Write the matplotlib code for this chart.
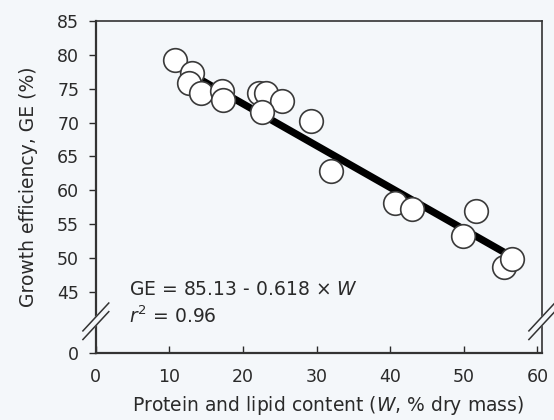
import matplotlib.pyplot as plt
import numpy as np

plt.rcParams["font.family"] = ["DejaVu Sans"]
plt.rcParams["mathtext.fontset"] = "dejavusans"

# protein + lipid content (W, % dry mass) and growth efficiency (GE, %)
w_content = [10.7, 13.1, 12.6, 14.3, 17.2, 17.3, 22.2, 23.1, 25.3, 22.6,
             29.3, 32.0, 40.7, 42.9, 51.6, 49.9, 55.5, 56.6]
ge_values = [79.2, 77.3, 75.9, 74.4, 74.7, 73.4, 74.3, 74.3, 73.2, 71.5,
             70.3, 62.8, 58.1, 57.3, 57.0, 53.2, 48.7, 49.9]
intercept = 85.13
slope = -0.618

y_ticks = [36, 45, 50, 55, 60, 65, 70, 75, 80, 85]
y_tick_labels = ["0", "45", "50", "55", "60", "65", "70", "75", "80", "85"]
x_ticks = [0, 10, 20, 30, 40, 50, 60]

bg = "#f4f7fa"
ink = "#2a2a2a"

fig = plt.figure(figsize=(5.54, 4.20), dpi=100, facecolor=bg)
ax = fig.add_axes([0.173, 0.160, 0.805, 0.790], facecolor=bg)

# regression line
wl = np.array([min(w_content), max(w_content)])
ax.plot(wl, intercept + slope * wl, color="black", lw=5.2, zorder=2,
        solid_capstyle="butt")

ax.plot(w_content, ge_values, "o", ms=17, mfc="white", mec="#3a3a3a",
        mew=1.2, zorder=3)

ax.set_xlim(0, 60.6)
ax.set_ylim(36, 85)
ax.set_xticks(x_ticks)
ax.set_yticks(y_ticks)
ax.set_yticklabels(y_tick_labels)
ax.tick_params(axis="x", direction="in", length=5, width=1, pad=11,
               labelsize=12.5, colors=ink)
ax.tick_params(axis="y", direction="out", length=5, width=1, pad=7,
               labelsize=12.5, colors=ink)

for side in ["left", "bottom", "right", "top"]:
    ax.spines[side].set_color("#333333")
    ax.spines[side].set_linewidth(1.2)
ax.spines["left"].set_linewidth(1.6)
ax.spines["bottom"].set_linewidth(1.6)

ax.set_xlabel(r"Protein and lipid content ($\it{W}$, % dry mass)",
              fontsize=13.5, color=ink)
ax.xaxis.set_label_coords(0.52, -0.125)
ax.set_ylabel("Growth efficiency, GE (%)", fontsize=13.5, color=ink,
              labelpad=14)

ax.text(0.075, 0.19, r"GE = 85.13 - 0.618 $\times$ $\it{W}$",
        transform=ax.transAxes, fontsize=13.5, color=ink, va="center")
ax.text(0.075, 0.11, r"$\it{r}^2$ = 0.96",
        transform=ax.transAxes, fontsize=13.5, color=ink, va="center")

# axis break marks
for xc in [0.0, 1.0]:
    yc = 0.095
    dx, dy, gap = 0.029, 0.042, 0.013
    ax.fill([xc - dx, xc + dx, xc + dx, xc - dx],
            [yc - dy - gap, yc + dy - gap, yc + dy + gap, yc - dy + gap],
            color=bg, transform=ax.transAxes, clip_on=False, zorder=5)
    for off in [-gap, gap]:
        ax.plot([xc - dx, xc + dx], [yc - dy + off, yc + dy + off],
                color="#333333", lw=1.1, transform=ax.transAxes,
                clip_on=False, zorder=6)

fig.savefig("out.png", dpi=100, facecolor=bg)
